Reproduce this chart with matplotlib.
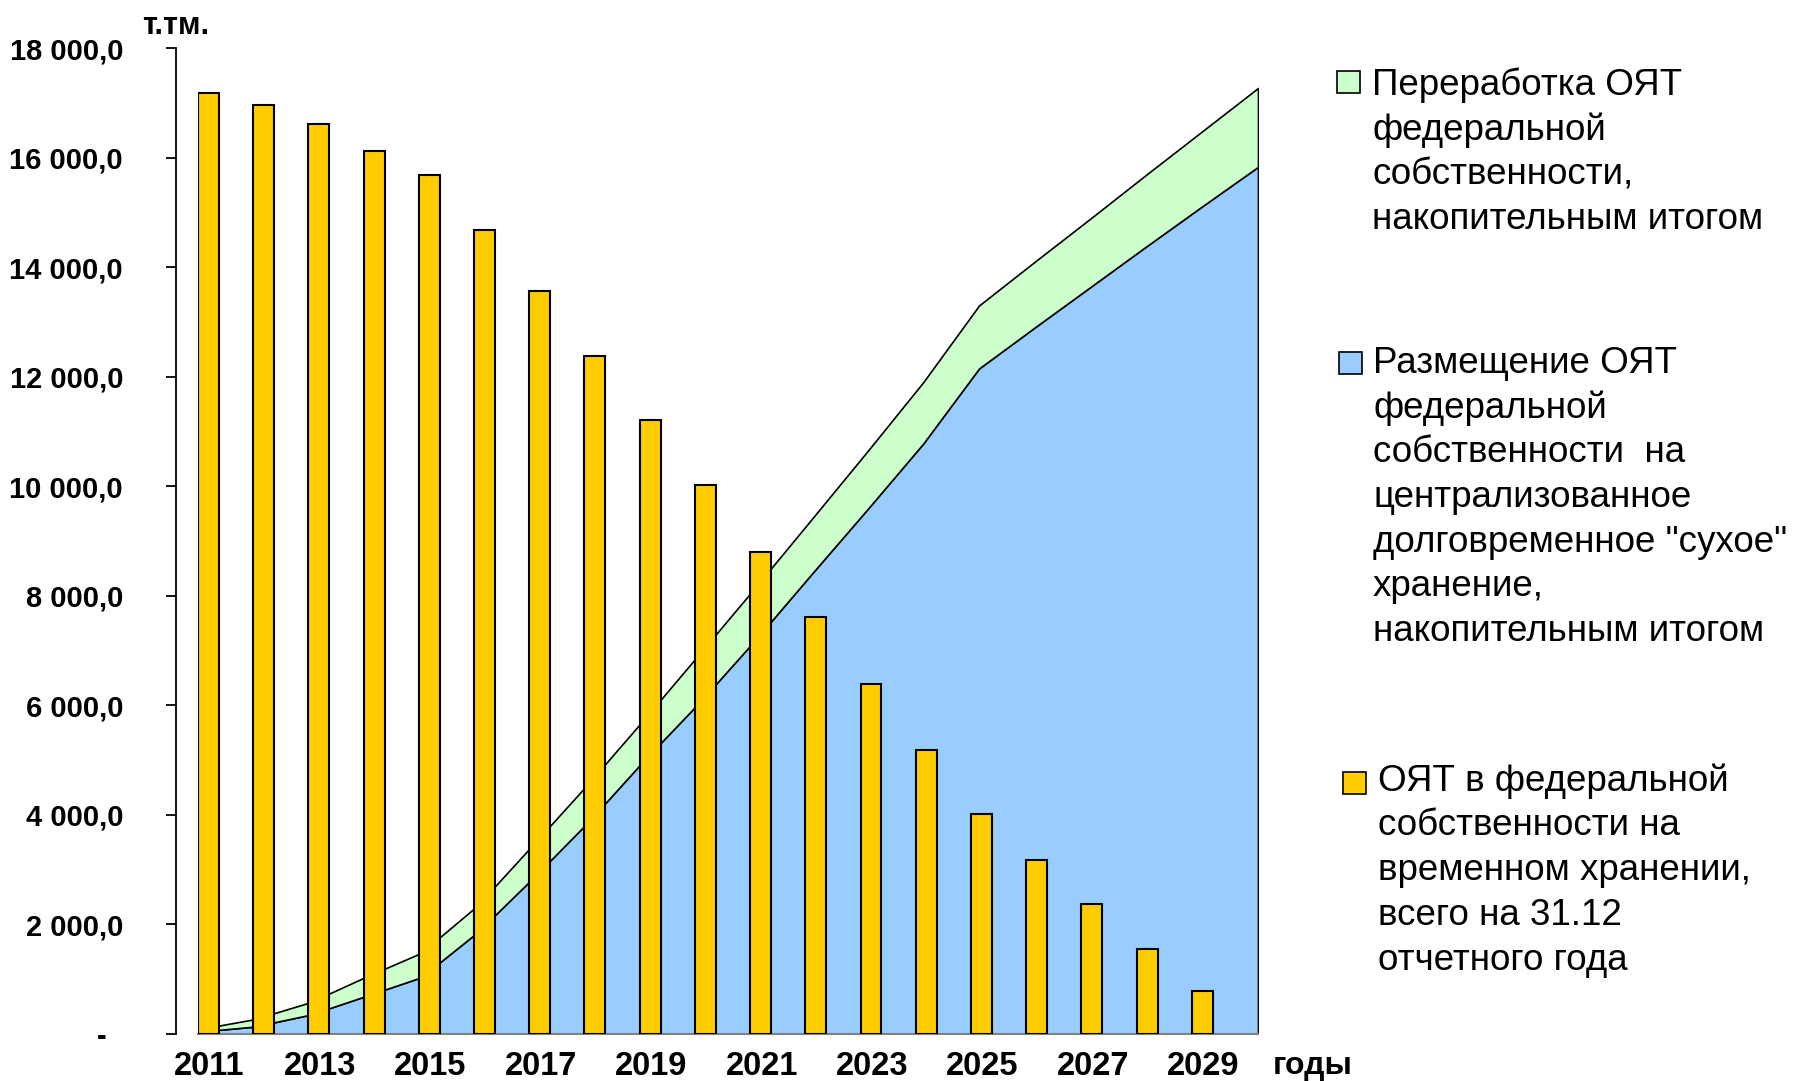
import matplotlib
matplotlib.use('Agg')
import matplotlib.pyplot as plt
from matplotlib.patches import Rectangle

plt.rcParams['font.family'] = ['Liberation Sans', 'DejaVu Sans']

# годы для накопительных рядов (площади) и для столбцов
years = list(range(2011, 2031))
bar_years = list(range(2011, 2030))

# ОЯТ в федеральной собственности на временном хранении, т.тм.
temp_storage = [17180, 16955, 16615, 16125, 15690, 14680, 13560, 12380, 11200,
                10025, 8795, 7605, 6385, 5190, 4010, 3170, 2370, 1550, 790]

# размещение ОЯТ на "сухое" хранение, накопительным итогом
dry_storage = [40, 134, 350, 690, 1035, 1850, 2842, 3876, 5002, 6066,
               7206, 8400, 9580, 10780, 12150, 12900, 13640, 14380, 15110, 15830]

# переработка ОЯТ, накопительным итогом (поверх размещения)
reprocessing = [45, 134, 225, 350, 445, 487, 608, 700, 749, 889,
                960, 1000, 1060, 1120, 1150, 1200, 1250, 1310, 1370, 1440]

y_ticks = list(range(0, 18001, 2000))

legend_green = ['Переработка ОЯТ', 'федеральной', 'собственности,',
                'накопительным итогом']
legend_blue = ['Размещение ОЯТ', 'федеральной', 'собственности  на',
               'централизованное', 'долговременное "сухое"', 'хранение,',
               'накопительным итогом']
legend_yellow = ['ОЯТ в федеральной', 'собственности на',
                 'временном хранении,', 'всего на 31.12', 'отчетного года']

C_YELLOW = '#FFCC00'
C_BLUE = '#99CCFF'
C_GREEN = '#CCFFCC'

W, H = 1810, 1081


def fx(x):
    return x / W


def fy(y):
    return 1 - y / H


def fmt(v):
    if v == 0:
        return '-  '
    return f'{v:,.1f}'.replace(',', ' ').replace('.', ',')


fig = plt.figure(figsize=(W / 100, H / 100), dpi=100)
ax = fig.add_axes([fx(198), fy(1034), 1060 / W, 986 / H])

ax.stackplot(years, dry_storage, reprocessing, colors=[C_BLUE, C_GREEN],
             edgecolor='black', linewidth=1.2)
ax.set_xlim(2011, 2030)
ax.set_ylim(0, 18000)
ax.set_xticks([])
for s in ['top', 'right']:
    ax.spines[s].set_visible(False)
ax.spines['left'].set_position(('outward', 16))
ax.spines['left'].set_bounds(0, 18000)
ax.spines['left'].set_linewidth(1.3)
ax.spines['bottom'].set_color('#808080')
ax.spines['bottom'].set_linewidth(1.5)

# столбцы на своей оси категорий
axb = ax.twiny()
axb.set_xlim(2011, 2011 + 19.2)
axb.bar(bar_years, temp_storage, width=0.38, align='edge', color=C_YELLOW,
        edgecolor='black', linewidth=1.5)
axb.xaxis.set_ticks_position('bottom')
axb.set_xticks([y + 0.21 for y in bar_years[::2]])
axb.set_xticklabels([str(y) for y in bar_years[::2]])
axb.tick_params(axis='x', length=0, pad=12, labelsize=23.5)
for s in axb.spines.values():
    s.set_visible(False)

ax.set_yticks(y_ticks)
ax.set_yticklabels([fmt(v) for v in y_ticks])
ax.tick_params(axis='y', direction='out', length=7, width=1.3, pad=31,
               labelsize=21)

fig.text(fx(142), fy(26), 'т.тм.', fontsize=22, fontweight='bold',
         ha='left', va='center')
fig.text(fx(1273), fy(1066), 'годы', fontsize=23, fontweight='bold',
         ha='left', va='center')

# легенда справа
entries = [
    (C_GREEN, 1337, 71, 1372, 85, legend_green),
    (C_BLUE, 1339, 352, 1373, 363, legend_blue),
    (C_YELLOW, 1343, 772, 1378, 781, legend_yellow),
]
pitch = 44.8
for color, sx, sy, tx, ty, lines in entries:
    fig.patches.append(Rectangle((fx(sx), fy(sy + 22)), 23 / W, 22 / H,
                                 transform=fig.transFigure, facecolor=color,
                                 edgecolor='black', linewidth=1.2))
    for k, line in enumerate(lines):
        fig.text(fx(tx), fy(ty + k * pitch), line, fontsize=26.5,
                 ha='left', va='center')

fig.canvas.draw()
for lab in ax.get_yticklabels() + axb.get_xticklabels():
    lab.set_fontweight('bold')

fig.savefig('out.png', dpi=100)
